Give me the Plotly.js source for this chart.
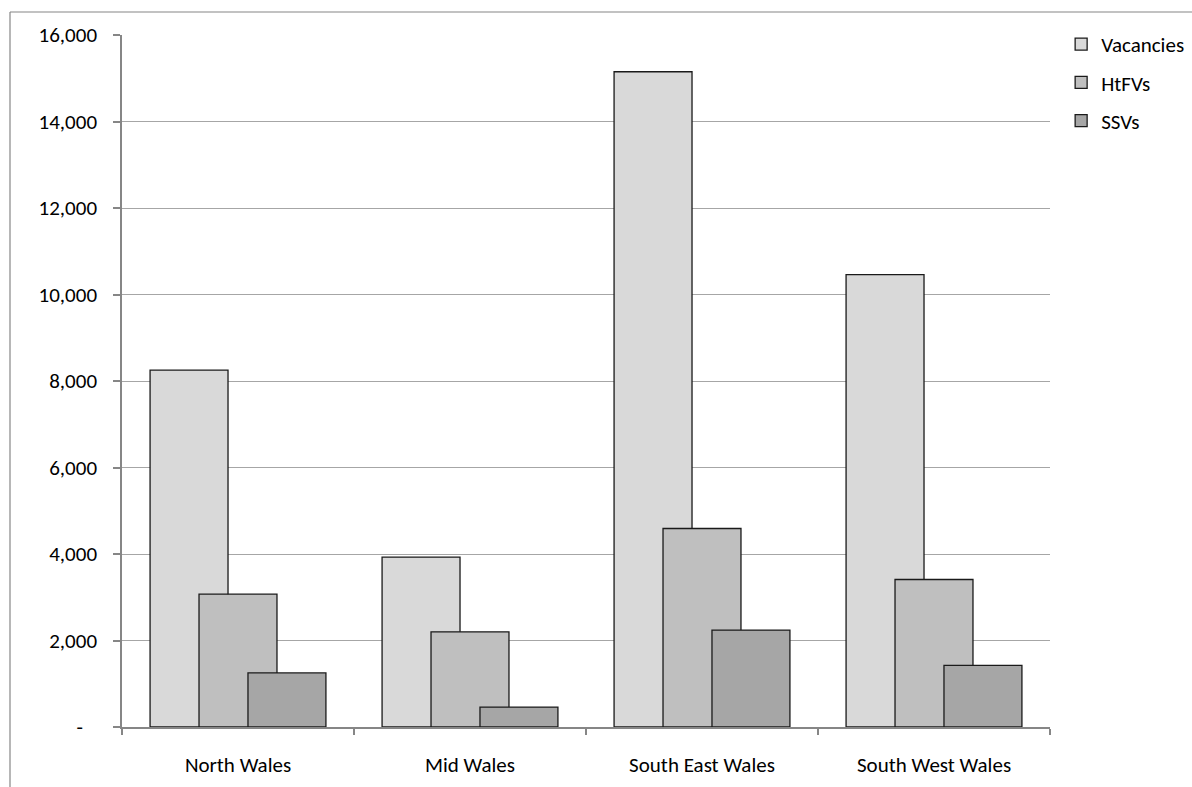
<!DOCTYPE html>
<html>
<head>
<meta charset="utf-8">
<script src="https://cdn.plot.ly/plotly-3.0.1.min.js"></script>
<style>
html,body{margin:0;padding:0;background:#fff;}
#chart{width:1192px;height:787px;}
</style>
</head>
<body>
<div id="chart"></div>
<script>
const regions = ["North Wales", "Mid Wales", "South East Wales", "South West Wales"];
const vacancies = [8250, 3930, 15150, 10460];
const htfvs = [3070, 2200, 4590, 3410];
const ssvs = [1250, 460, 2240, 1425];
const seriesNames = ["Vacancies", "HtFVs", "SSVs"];
const yTickVals = [0, 2000, 4000, 6000, 8000, 10000, 12000, 14000, 16000];
const yTickText = ["-\u00a0\u00a0\u00a0", "2,000", "4,000", "6,000", "8,000", "10,000", "12,000", "14,000", "16,000"];

const colors = ["#d9d9d9", "#bfbfbf", "#a6a6a6"];
const offsets = [-0.379, -0.168, 0.043];
const barW = 0.336;
const seriesVals = [vacancies, htfvs, ssvs];

const font = {family: "Carlito, Calibri, Lato, sans-serif", size: 21, color: "#000"};

const traces = seriesVals.map((vals, i) => ({
  type: "bar",
  name: seriesNames[i],
  legendgroup: "g" + i,
  x: regions,
  y: vals,
  offset: offsets[i],
  width: barW,
  marker: {color: colors[i], line: {color: "#1a1a1a", width: 1.3}},
  hoverinfo: "x+y+name"
}));

// pixel -> paper helpers (plot area 122..1050 x 35..727)
const px = p => (p - 122) / 928;
const py = p => (727 - p) / 692;

const layout = {
  width: 1192, height: 787,
  margin: {l: 122, r: 142, t: 35, b: 60, pad: 0, autoexpand: false},
  paper_bgcolor: "#fff", plot_bgcolor: "#fff",
  barmode: "overlay",
  font: font,
  showlegend: true,
  legend: {
    x: 1.012, y: 1.016, xanchor: "left", yanchor: "top",
    font: font, tracegroupgap: 8,
    bgcolor: "rgba(0,0,0,0)", itemwidth: 30
  },
  xaxis: {
    type: "category",
    range: [-0.5, 3.5],
    tickson: "boundaries",
    ticks: "outside", ticklen: 6, tickcolor: "#868686", tickwidth: 1.5,
    showline: true, linecolor: "#868686", linewidth: 1.5,
    showgrid: false, zeroline: false,
    ticklabelstandoff: 18,
    tickfont: font, fixedrange: true
  },
  yaxis: {
    range: [0, 16000],
    tickvals: yTickVals, ticktext: yTickText,
    ticks: "outside", ticklen: 7, tickcolor: "#868686", tickwidth: 1.5,
    showline: true, linecolor: "#868686", linewidth: 1.5,
    showgrid: true, gridcolor: "#a6a6a6", gridwidth: 1,
    zeroline: false,
    ticklabelstandoff: 12,
    tickfont: font, fixedrange: true
  },
  shapes: [
    {type: "line", xref: "paper", yref: "paper", x0: px(10), x1: px(1192), y0: py(12), y1: py(12), line: {color: "#868686", width: 1.2}},
    {type: "line", xref: "paper", yref: "paper", x0: px(10), x1: px(10), y0: py(12), y1: py(787), line: {color: "#868686", width: 1.2}}
  ]
};

Plotly.newPlot("chart", traces, layout, {displayModeBar: false, staticPlot: false});
</script>
</body>
</html>
